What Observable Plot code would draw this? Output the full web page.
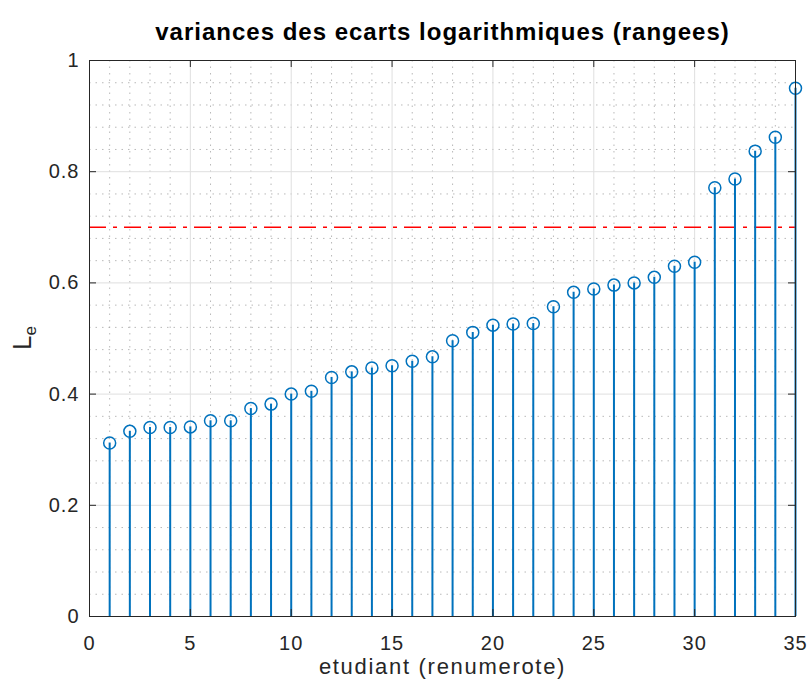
<!DOCTYPE html>
<html><head><meta charset="utf-8">
<script src="https://cdn.jsdelivr.net/npm/d3@7"></script>
<script src="https://cdn.jsdelivr.net/npm/@observablehq/plot@0.6"></script>
<style>body{margin:0;background:#fff;font-family:"Liberation Sans",Arial,sans-serif}</style>
</head><body><div id="chart"></div>
<script>
const titre = "variances des ecarts logarithmiques (rangees)";
const xLabel = "etudiant (renumerote)";
const etudiants = [1,2,3,4,5,6,7,8,9,10,11,12,13,14,15,16,17,18,19,20,21,22,23,24,25,26,27,28,29,30,31,32,33,34,35];
const variances = [0.312,0.333,0.340,0.340,0.341,0.352,0.352,0.374,0.382,0.400,0.405,0.430,0.440,0.447,0.451,0.459,0.467,0.496,0.511,0.524,0.526,0.527,0.557,0.583,0.589,0.596,0.600,0.610,0.630,0.637,0.771,0.787,0.837,0.862,0.950];
const seuil = 0.7;
const xMajorTicks = [0,5,10,15,20,25,30,35];
const yMajorTicks = [0,0.2,0.4,0.6,0.8,1];
const xMinorTicks = [1,2,3,4,6,7,8,9,11,12,13,14,16,17,18,19,21,22,23,24,26,27,28,29,31,32,33,34];
const yMinorTicks = [0.04,0.08,0.12,0.16,0.24,0.28,0.32,0.36,0.44,0.48,0.52,0.56,0.64,0.68,0.72,0.76,0.84,0.88,0.92,0.96];

const data = etudiants.map((e, i) => ({e, v: variances[i]}));
const blue = "#0072BD";
const W = 810, H = 690, mL = 89, mR = 15, mT = 60, mB = 74;
const pw = W - mL - mR, ph = H - mT - mB, tk = 7;

const plot = Plot.plot({
  width: W, height: H,
  marginLeft: mL, marginRight: mR, marginTop: mT, marginBottom: mB,
  style: {fontFamily: "Liberation Sans, Arial, sans-serif", fontSize: "20px", color: "#262626", background: "#fff", letterSpacing: "1px"},
  x: {domain: [0, 35], label: null},
  y: {domain: [0, 1], label: null},
  marks: [
    Plot.gridX(xMinorTicks, {stroke: "#a8a8a8", strokeOpacity: 0.8, strokeDasharray: "1.5,5"}),
    Plot.gridY(yMinorTicks, {stroke: "#a8a8a8", strokeOpacity: 0.8, strokeDasharray: "1.5,5"}),
    Plot.gridX(xMajorTicks, {stroke: "#dfdfdf", strokeOpacity: 1}),
    Plot.gridY(yMajorTicks, {stroke: "#dfdfdf", strokeOpacity: 1}),
    Plot.ruleY([seuil], {stroke: "#ff0000", strokeWidth: 1.6, strokeDasharray: "17,7,4,7"}),
    Plot.ruleX(data, {x: "e", y1: 0, y2: "v", stroke: blue, strokeWidth: 2}),
    Plot.dot(data, {x: "e", y: "v", r: 6, stroke: blue, strokeWidth: 1.5, fill: "none"}),
    Plot.frame({stroke: "#262626", strokeWidth: 1}),
    Plot.ruleX(xMajorTicks, {stroke: "#262626", insetTop: ph - tk}),
    Plot.ruleX(xMajorTicks, {stroke: "#262626", insetBottom: ph - tk}),
    Plot.ruleY(yMajorTicks, {stroke: "#262626", insetRight: pw - tk}),
    Plot.ruleY(yMajorTicks, {stroke: "#262626", insetLeft: pw - tk}),
    Plot.axisX({ticks: xMajorTicks, tickSize: 0, tickPadding: 19, label: null, fontSize: 20, fill: "#262626"}),
    Plot.axisY({ticks: yMajorTicks, tickSize: 0, tickPadding: 10, label: null, fontSize: 20, fill: "#262626", tickFormat: d => String(d)}),
    Plot.text([xLabel], {frameAnchor: "bottom", dy: 57.5, fontSize: 22, fill: "#262626"}),
    Plot.text([titre], {frameAnchor: "top", dy: -38, fontSize: 24, fontWeight: "bold", fill: "#000"})
  ]
});
document.getElementById("chart").appendChild(plot);

const svg = d3.select(plot.tagName.toLowerCase() === "svg" ? plot : plot.querySelector("svg"));
svg.selectAll("text").filter(function() { return this.textContent === xLabel; }).style("letter-spacing", "1.7px");

// y-axis label with subscript
const yl = svg.append("text")
  .attr("transform", `translate(31,${mT + ph / 2}) rotate(-90)`)
  .attr("text-anchor", "middle")
  .attr("fill", "#262626")
  .style("font-size", "26px")
  .style("letter-spacing", "0px")
  .style("font-family", "Liberation Sans, Arial, sans-serif");
yl.append("tspan").text("L");
yl.append("tspan").attr("dy", "0.3em").style("font-size", "17px").text("e");
</script></body></html>
